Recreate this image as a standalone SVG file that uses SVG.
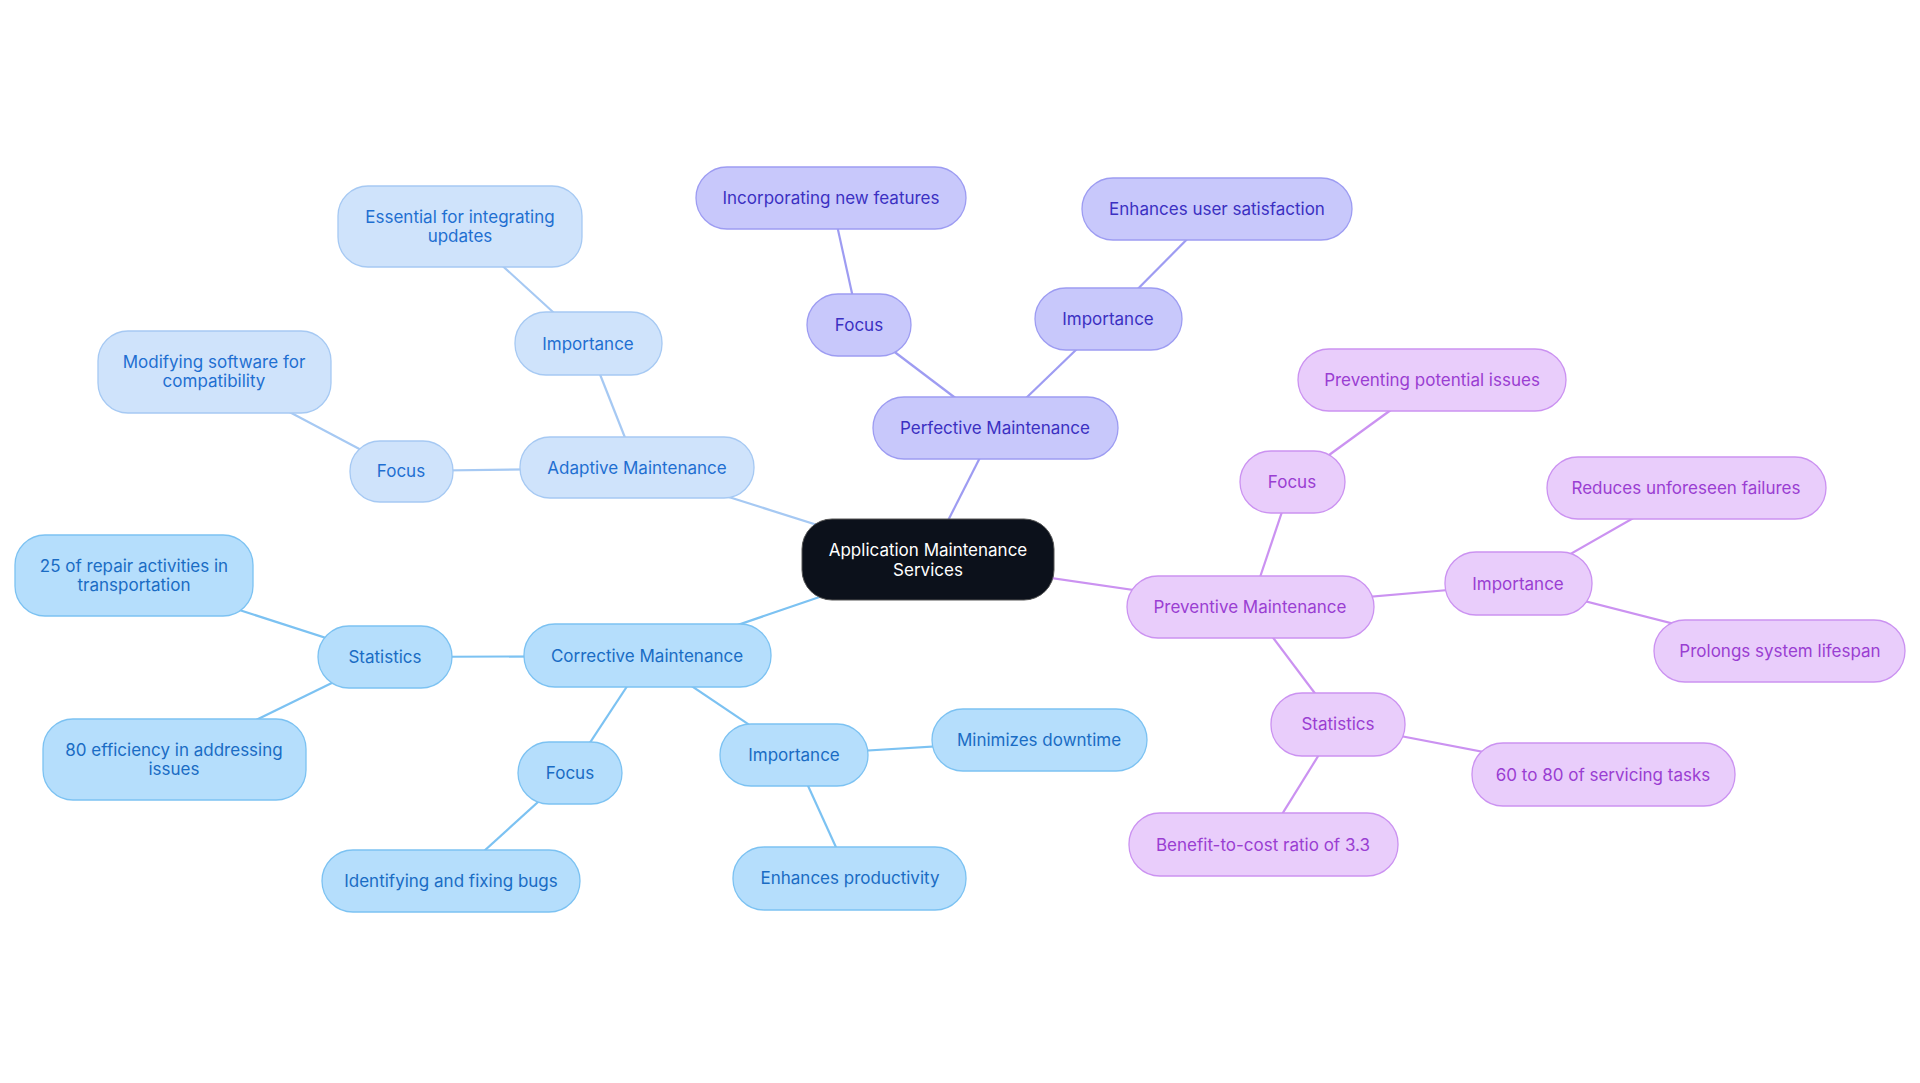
<svg xmlns="http://www.w3.org/2000/svg" width="1920" height="1083" viewBox="0 0 1920 1083">
<style>
text{font-family:Inter,"Noto Sans",sans-serif;font-size:17px;text-anchor:middle;dominant-baseline:central}
.e line{stroke-width:2.2}
.c rect{fill:#b5defc;stroke:#7cc2f2;stroke-width:1.3}.c text{fill:#1a6cc4}
.a rect{fill:#cfe3fb;stroke:#a6c9f3;stroke-width:1.3}.a text{fill:#1f6fd1}
.p rect{fill:#c8c8fb;stroke:#9d9cf2;stroke-width:1.3}.p text{fill:#3b30c2}
.v rect{fill:#e9cdfb;stroke:#cb92f1;stroke-width:1.3}.v text{fill:#9a3ed2}
</style>
<rect width="1920" height="1083" fill="#fff"/>
<g class="e">
<g stroke="#9e9cf2"><line x1="928" y1="560" x2="995" y2="428"/><line x1="995" y1="428" x2="859" y2="325"/><line x1="859" y1="325" x2="831" y2="198"/><line x1="995" y1="428" x2="1108" y2="319"/><line x1="1108" y1="319" x2="1217" y2="209"/></g>
<g stroke="#a6c9f3"><line x1="928" y1="560" x2="637" y2="468"/><line x1="637" y1="468" x2="588" y2="344"/><line x1="588" y1="344" x2="460" y2="227"/><line x1="637" y1="468" x2="401" y2="471"/><line x1="401" y1="471" x2="214" y2="372"/></g>
<g stroke="#7cc2f2"><line x1="928" y1="560" x2="647" y2="656"/><line x1="647" y1="656" x2="385" y2="657"/><line x1="385" y1="657" x2="134" y2="576"/><line x1="385" y1="657" x2="174" y2="760"/><line x1="647" y1="656" x2="570" y2="773"/><line x1="570" y1="773" x2="451" y2="881"/><line x1="647" y1="656" x2="794" y2="755"/><line x1="794" y1="755" x2="1039" y2="740"/><line x1="794" y1="755" x2="850" y2="878"/></g>
<g stroke="#cb92f1"><line x1="928" y1="560" x2="1250" y2="607"/><line x1="1250" y1="607" x2="1292" y2="482"/><line x1="1292" y1="482" x2="1432" y2="380"/><line x1="1250" y1="607" x2="1518" y2="584"/><line x1="1518" y1="584" x2="1686" y2="488"/><line x1="1518" y1="584" x2="1780" y2="651"/><line x1="1250" y1="607" x2="1338" y2="724"/><line x1="1338" y1="724" x2="1603" y2="775"/><line x1="1338" y1="724" x2="1263" y2="845"/></g>
</g>
<g id="root"><rect x="802" y="519" width="252" height="81" rx="30" fill="#0c111b" stroke="#555" stroke-width="1"/><text x="928" y="550" fill="#fff">Application Maintenance</text><text x="928" y="570" fill="#fff">Services</text></g>
<g class="p">
<g id="perf"><rect x="873" y="397" width="245" height="62" rx="31"/><text x="995" y="428">Perfective Maintenance</text></g>
<g id="focusP"><rect x="807" y="294" width="104" height="62" rx="31"/><text x="859" y="325">Focus</text></g>
<g id="inc"><rect x="696" y="167" width="270" height="62" rx="31"/><text x="831" y="198">Incorporating new features</text></g>
<g id="impP"><rect x="1035" y="288" width="147" height="62" rx="31"/><text x="1108" y="319">Importance</text></g>
<g id="eus"><rect x="1082" y="178" width="270" height="62" rx="31"/><text x="1217" y="209">Enhances user satisfaction</text></g>
</g>
<g class="a">
<g id="adapt"><rect x="520" y="437" width="234" height="61" rx="30"/><text x="637" y="468">Adaptive Maintenance</text></g>
<g id="impA"><rect x="515" y="312" width="147" height="63" rx="31"/><text x="588" y="344">Importance</text></g>
<g id="ess"><rect x="338" y="186" width="244" height="81" rx="30"/><text x="460" y="217">Essential for integrating</text><text x="460" y="236">updates</text></g>
<g id="focusA"><rect x="350" y="441" width="103" height="61" rx="30"/><text x="401" y="471">Focus</text></g>
<g id="mod"><rect x="98" y="331" width="233" height="82" rx="30"/><text x="214" y="362">Modifying software for</text><text x="214" y="381">compatibility</text></g>
</g>
<g class="c">
<g id="corr"><rect x="524" y="624" width="247" height="63" rx="31"/><text x="647" y="656">Corrective Maintenance</text></g>
<g id="statC"><rect x="318" y="626" width="134" height="62" rx="31"/><text x="385" y="657">Statistics</text></g>
<g id="s25"><rect x="15" y="535" width="238" height="81" rx="30"/><text x="134" y="566">25 of repair activities in</text><text x="134" y="585">transportation</text></g>
<g id="s80"><rect x="43" y="719" width="263" height="81" rx="30"/><text x="174" y="750">80 efficiency in addressing</text><text x="174" y="769">issues</text></g>
<g id="focusC"><rect x="518" y="742" width="104" height="62" rx="31"/><text x="570" y="773">Focus</text></g>
<g id="ident"><rect x="322" y="850" width="258" height="62" rx="31"/><text x="451" y="881">Identifying and fixing bugs</text></g>
<g id="impC"><rect x="720" y="724" width="148" height="62" rx="31"/><text x="794" y="755">Importance</text></g>
<g id="min"><rect x="932" y="709" width="215" height="62" rx="31"/><text x="1039" y="740">Minimizes downtime</text></g>
<g id="ep"><rect x="733" y="847" width="233" height="63" rx="31"/><text x="850" y="878">Enhances productivity</text></g>
</g>
<g class="v">
<g id="prev"><rect x="1127" y="576" width="247" height="62" rx="31"/><text x="1250" y="607">Preventive Maintenance</text></g>
<g id="focusV"><rect x="1240" y="451" width="105" height="62" rx="31"/><text x="1292" y="482">Focus</text></g>
<g id="prevt"><rect x="1298" y="349" width="268" height="62" rx="31"/><text x="1432" y="380">Preventing potential issues</text></g>
<g id="impV"><rect x="1445" y="552" width="147" height="63" rx="31"/><text x="1518" y="584">Importance</text></g>
<g id="red"><rect x="1547" y="457" width="279" height="62" rx="31"/><text x="1686" y="488">Reduces unforeseen failures</text></g>
<g id="prol"><rect x="1654" y="620" width="251" height="62" rx="31"/><text x="1780" y="651">Prolongs system lifespan</text></g>
<g id="statV"><rect x="1271" y="693" width="134" height="63" rx="31"/><text x="1338" y="724">Statistics</text></g>
<g id="s60"><rect x="1472" y="743" width="263" height="63" rx="31"/><text x="1603" y="775">60 to 80 of servicing tasks</text></g>
<g id="ben"><rect x="1129" y="813" width="269" height="63" rx="31"/><text x="1263" y="845">Benefit-to-cost ratio of 3.3</text></g>
</g>
</svg>
